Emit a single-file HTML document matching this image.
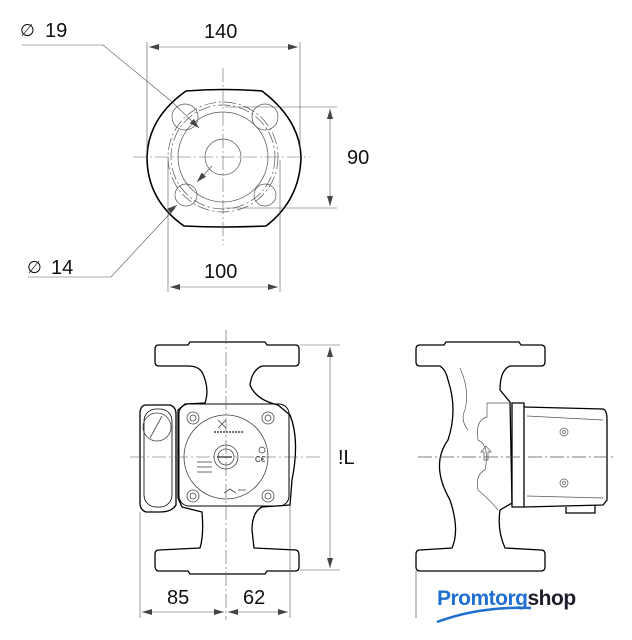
<!DOCTYPE html>
<html><head><meta charset="utf-8"><style>
html,body{margin:0;padding:0;background:#fff;}
svg{display:block;}
text{font-family:"Liberation Sans",Arial,sans-serif;}
</style></head><body>
<svg width="632" height="640" viewBox="0 0 632 640" xmlns="http://www.w3.org/2000/svg">
<defs>
<marker id="a" viewBox="0 0 10 6" refX="10" refY="3" markerWidth="10" markerHeight="6" orient="auto-start-reverse" markerUnits="userSpaceOnUse"><path d="M0,0 L10,3 L0,6 Z" fill="#444"/></marker>
</defs>
<g fill="none" stroke="#000">
<!-- TOP VIEW -->
<path d="M186,91 Q223,88 262,91 Q300,120 301,157 Q300,200 266,226 Q223,228 184,226 Q147,200 147,157 Q148,118 186,91 Z" stroke-width="1.6"/>
<g stroke="#555" stroke-width="0.7">
<circle cx="223" cy="157" r="18"/>
<circle cx="223" cy="157" r="45"/>
<circle cx="223" cy="157" r="52" stroke-dasharray="12 3 2 3"/>
<circle cx="223" cy="157" r="55" stroke-dasharray="12 3 2 3"/>
<circle cx="185" cy="117" r="13"/>
<circle cx="265" cy="117" r="13"/>
<circle cx="186" cy="195" r="11"/>
<circle cx="265" cy="195" r="11"/>
</g>
<g stroke="#666" stroke-width="0.6" stroke-dasharray="14 3 2 3">
<line x1="223" y1="68" x2="223" y2="245"/>
<line x1="133" y1="157" x2="310" y2="157"/>
</g>
<g stroke="#555" stroke-width="0.6">
<line x1="147" y1="42" x2="147" y2="150"/>
<line x1="300" y1="42" x2="300" y2="150"/>
<line x1="149" y1="47" x2="298" y2="47" marker-start="url(#a)" marker-end="url(#a)"/>
<line x1="225" y1="107" x2="337" y2="107"/>
<line x1="225" y1="208" x2="337" y2="208"/>
<line x1="330" y1="109" x2="330" y2="206" marker-start="url(#a)" marker-end="url(#a)"/>
<line x1="168" y1="160" x2="168" y2="292"/>
<line x1="280" y1="160" x2="280" y2="292"/>
<line x1="170" y1="287" x2="278" y2="287" marker-start="url(#a)" marker-end="url(#a)"/>
<polyline points="22,45 103,45 171,101"/>
<line x1="171" y1="101" x2="199" y2="128" marker-end="url(#a)"/>
<line x1="212" y1="166" x2="197" y2="182" marker-end="url(#a)"/>
<polyline points="28,277 111,277 175,208"/>
<line x1="168" y1="212" x2="177" y2="205" marker-end="url(#a)"/>
</g>
</g>
<g fill="#111" font-size="20">
<text x="20" y="36" font-size="17">∅</text><text x="45" y="37">19</text>
<text x="204" y="38">140</text>
<text x="347" y="164">90</text>
<text x="27" y="273" font-size="17">∅</text><text x="51" y="274">14</text>
<text x="204" y="278">100</text>
</g>

<!-- FRONT VIEW -->
<g fill="none" stroke="#000" stroke-width="1.3">
<path d="M158,345 L188,345 L190,342 L265,342 L267,345 L296,345 Q299,345 299,349 L299,362 Q299,366 295,366 L262,366 Q252,370 250,385 Q256,400 278,405 L290,415 Q300,440 292,480 L290,505 L262,507 Q252,512 252,530 L254,548 L296,550 Q299,551 299,555 L299,567 Q299,571 295,571 L267,571 L265,574 L190,574 L188,571 L158,571 Q155,570 155,566 L155,554 Q155,550 159,550 L200,548 Q204,535 202,512 L182,507 L178,498 L178,410 L185,404 L205,403 Q210,388 202,372 Q198,366 188,366 L159,366 Q155,366 155,362 L155,350 Q155,345 158,345 Z"/>
<path d="M146,405 L170,405 Q176,407 176,414 L176,505 Q172,512 160,512 L146,512 Q140,510 140,503 L140,412 Q141,405 146,405 Z"/>
<rect x="144" y="409" width="28" height="98" rx="12" stroke-width="0.8"/>
<rect x="179" y="404" width="110" height="102" rx="10" stroke-width="1"/>
</g>
<g fill="none" stroke="#444" stroke-width="0.8">
<circle cx="157" cy="427" r="14"/>
<line x1="150" y1="438" x2="162" y2="416"/>
<circle cx="226" cy="457" r="42"/>
<circle cx="226" cy="457" r="12"/><circle cx="226" cy="457" r="8"/>
<line x1="217" y1="457" x2="232" y2="457" stroke-width="1.5"/>
<circle cx="193" cy="418" r="6"/><circle cx="193" cy="418" r="3"/>
<circle cx="268" cy="418" r="6"/><circle cx="268" cy="418" r="3"/>
<circle cx="193" cy="496" r="6"/><circle cx="193" cy="496" r="3"/>
<circle cx="268" cy="496" r="6"/><circle cx="268" cy="496" r="3"/>
<line x1="197" y1="462" x2="212" y2="462"/><line x1="197" y1="467" x2="212" y2="467"/><line x1="197" y1="472" x2="212" y2="472"/>
<line x1="218" y1="420" x2="226" y2="428"/><line x1="226" y1="420" x2="218" y2="428"/>
<line x1="214" y1="432" x2="244" y2="432" stroke-width="1.5" stroke-dasharray="2 1"/>
<circle cx="262" cy="450" r="3"/>
<path d="M224,493 l6,-4 l6,4 M238,490 h8"/>
</g>
<text x="255" y="462" font-size="8" fill="#222">C€</text>
<g stroke="#555" stroke-width="0.6" fill="none">
<line x1="226" y1="330" x2="226" y2="620" stroke-dasharray="14 3 2 3"/>
<line x1="130" y1="457" x2="320" y2="457" stroke-dasharray="14 3 2 3"/>
<line x1="300" y1="345" x2="340" y2="345"/>
<line x1="300" y1="570" x2="340" y2="570"/>
<line x1="330" y1="347" x2="330" y2="568" marker-start="url(#a)" marker-end="url(#a)"/>
<line x1="140" y1="512" x2="140" y2="618"/>
<line x1="290" y1="505" x2="290" y2="618"/>
<line x1="142" y1="612" x2="224" y2="612" marker-start="url(#a)" marker-end="url(#a)"/>
<line x1="228" y1="612" x2="288" y2="612" marker-start="url(#a)" marker-end="url(#a)"/>
</g>
<g fill="#111" font-size="20">
<text x="338" y="464">!L</text>
<text x="167" y="604">85</text>
<text x="243" y="604">62</text>
</g>

<!-- SIDE VIEW -->
<g fill="none" stroke="#000" stroke-width="1.3">
<path d="M420,345 L444,345 L446,342 L519,342 L521,345 L541,345 Q545,345 545,349 L545,362 Q545,366 541,366 L510,366 Q500,370 500,390 L510,402 L512,503 L500,510 Q497,530 505,548 L541,550 Q545,550 545,554 L545,567 Q545,571 541,571 L420,571 Q416,571 416,567 L416,554 Q416,550 420,550 L452,548 Q460,530 450,500 Q430,465 448,440 Q458,410 448,380 Q446,370 440,366 L420,366 Q416,366 416,362 L416,349 Q416,345 420,345 Z"/>
<path d="M512,403 L524,403 L524,507 L512,507 Z"/>
<path d="M524,407 L603,409 Q607,410 607,420 L607,500 L603,505 L524,507"/>
<path d="M566,507 L566,513 L595,513 L595,505"/>
</g>
<g fill="none" stroke="#555" stroke-width="0.7">
<path d="M487,403 L512,403 M487,403 L487,417 Q475,420 478,440 Q490,445 485,470 Q475,475 478,490 Q490,500 498,510"/>
<path d="M460,368 Q470,390 465,410 Q460,420 468,430"/>
<path d="M481,452 l5,-6 l5,6 h-3 v8 h-4 v-8 Z"/>
<circle cx="564" cy="432" r="4"/><circle cx="564" cy="432" r="1.5"/>
<circle cx="564" cy="483" r="4"/><circle cx="564" cy="483" r="1.5"/>
<line x1="527" y1="416" x2="603" y2="420"/>
<line x1="527" y1="496" x2="603" y2="498"/>
<line x1="418" y1="457" x2="615" y2="457" stroke-dasharray="14 3 2 3"/>
<line x1="416" y1="571" x2="416" y2="618"/>
</g>
<!-- logo -->
<text x="437" y="605" font-size="21" font-weight="bold" fill="#1e6fd0" letter-spacing="-0.5">Promtorg<tspan fill="#1d1d2b">shop</tspan></text>
<path d="M437,622 Q480,606 531,608" fill="none" stroke="#1e6fd0" stroke-width="2.5"/>
</svg>
</body></html>
